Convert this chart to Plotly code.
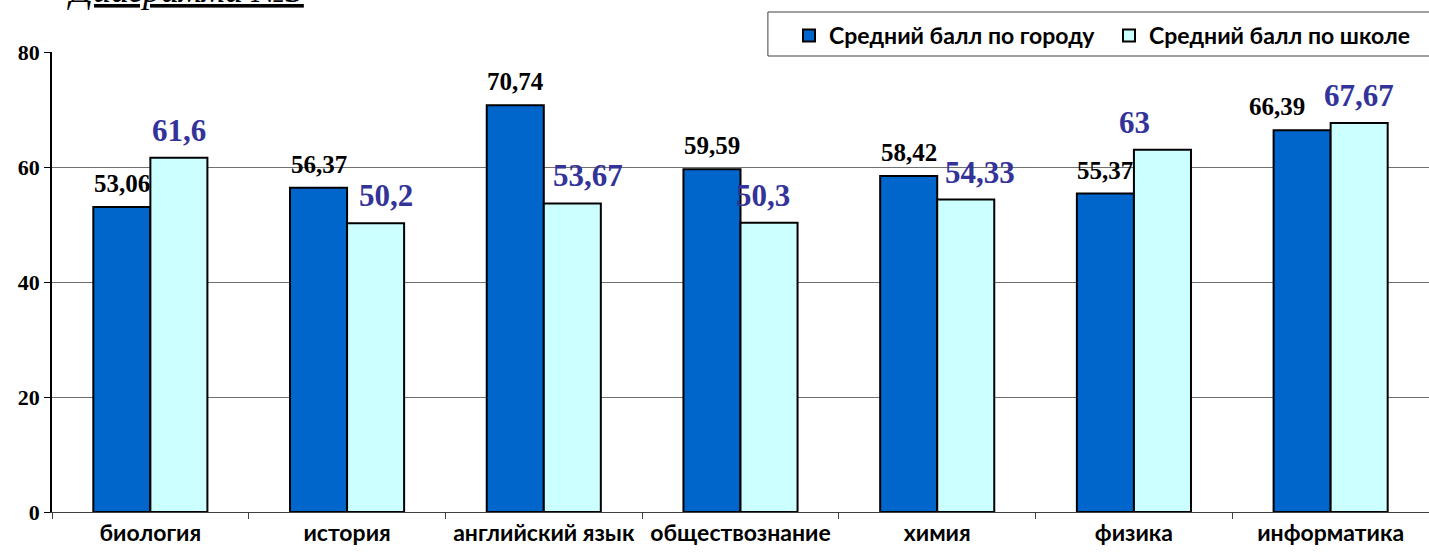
import plotly.graph_objects as go

categories = ["биология", "история", "английский язык", "обществознание", "химия", "физика", "информатика"]
city_scores = [53.06, 56.37, 70.74, 59.59, 58.42, 55.37, 66.39]
school_scores = [61.6, 50.2, 53.67, 50.3, 54.33, 63, 67.67]
city_labels = ["53,06", "56,37", "70,74", "59,59", "58,42", "55,37", "66,39"]
school_labels = ["61,6", "50,2", "53,67", "50,3", "54,33", "63", "67,67"]
y_ticks = [0, 20, 40, 60, 80]

# manual label nudges (pixels), as in the original
city_nudge = [0, 0, 0, 0, 0, 0, -25]
school_nudge = [0, 10, 16, -6, 14, -28, 0]

DARK = "#0066CC"
LIGHT = "#CCFFFF"
SERIF = "Liberation Serif, Times New Roman, serif"
SANS = "Lato, Liberation Sans, sans-serif"

fig = go.Figure()
fig.add_trace(go.Bar(name="Средний балл по городу", x=categories, y=city_scores,
                     marker=dict(color=DARK, line=dict(color="black", width=2))))
fig.add_trace(go.Bar(name="Средний балл по школе", x=categories, y=school_scores,
                     marker=dict(color=LIGHT, line=dict(color="black", width=2))))

BAR_HALF = 28.5
for i, c in enumerate(categories):
    fig.add_annotation(x=c, y=city_scores[i], xref="x", yref="y", text=city_labels[i],
                       showarrow=False, yanchor="bottom", xshift=-BAR_HALF + city_nudge[i], yshift=8,
                       font=dict(family=SERIF, size=25, color="black", weight="bold"))
    fig.add_annotation(x=c, y=school_scores[i], xref="x", yref="y", text=school_labels[i],
                       showarrow=False, yanchor="bottom", xshift=BAR_HALF + school_nudge[i], yshift=8,
                       font=dict(family=SERIF, size=31, color="#333399", weight="bold"))

fig.add_annotation(x=0.0966, y=1.087, xref="paper", yref="paper", text="<i><u>Диаграмма №3</u></i>",
                   showarrow=False, yanchor="bottom", xanchor="center",
                   font=dict(family=SERIF, size=36, color="black"))

# legend frame
fig.add_shape(type="rect", xref="paper", yref="paper", x0=0.5199, x1=1.01, y0=(512 - 56) / 460, y1=(512 - 12) / 460,
              line=dict(color="#404040", width=1), fillcolor="white", layer="below")

fig.update_layout(
    width=1429, height=553,
    margin=dict(l=52, r=0, t=52, b=41),
    paper_bgcolor="white", plot_bgcolor="white",
    barmode="group", bargap=0.42, bargroupgap=0,
    showlegend=True,
    legend=dict(orientation="h", x=(789 - 52) / 1377, xanchor="left", y=(512 - 14) / 460, yanchor="top",
                borderwidth=0, bgcolor="rgba(0,0,0,0)",
                font=dict(family=SANS, size=23, color="black", weight="bold"),
                entrywidth=275, entrywidthmode="pixels",
                itemsizing="constant"),
    xaxis=dict(showline=True, linecolor="#404040", linewidth=1, ticks="outside", tickson="boundaries",
               ticklen=6, tickcolor="#404040", tickangle=0, automargin=False,
               tickfont=dict(family=SANS, size=23, color="black", weight="bold")),
    yaxis=dict(range=[0, 80], tickvals=y_ticks, showline=True, linecolor="black", linewidth=1.5,
               ticks="outside", ticklen=6, tickcolor="black", automargin=False,
               showgrid=True, gridcolor="#707070", gridwidth=1, zeroline=False,
               tickfont=dict(family=SERIF, size=22, color="black", weight="bold")),
)
fig.update_xaxes(range=[-0.5, 6.5])
fig.write_html("out.html", config={"displayModeBar": False},
               post_script="document.body.style.margin='0';document.body.style.overflow='hidden';")
